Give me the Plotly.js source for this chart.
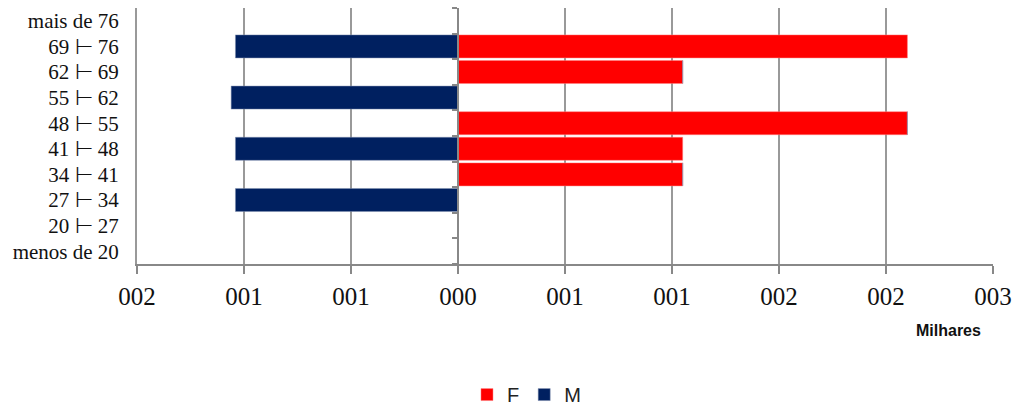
<!DOCTYPE html>
<html>
<head>
<meta charset="utf-8">
<script src="https://cdn.plot.ly/plotly-3.0.1.min.js"></script>
<style>html,body{margin:0;padding:0;background:#fff;}#chart{width:1018px;height:407px;}</style>
</head>
<body>
<div id="chart"></div>
<script>
const categories = ["menos de 20", "20 \u22A2 27", "27 \u22A2 34", "34 \u22A2 41", "41 \u22A2 48",
                    "48 \u22A2 55", "55 \u22A2 62", "62 \u22A2 69", "69 \u22A2 76", "mais de 76"];
const femaleValues = [0, 0, 0, 1.05, 1.05, 2.10, 0, 1.05, 2.10, 0];
const maleValues   = [0, 0, 1.04, 0, 1.04, 0, 1.06, 0, 1.04, 0];
const xTickValues = [-1.5, -1.0, -0.5, 0, 0.5, 1.0, 1.5, 2.0, 2.5];
const xTickLabels = ["002", "001", "001", "000", "001", "001", "002", "002", "003"];

const boundaries = [];
for (let i = 0; i <= categories.length; i++) boundaries.push(i - 0.5);

const traces = [
  {type: 'bar', orientation: 'h', name: 'F', y: categories, x: femaleValues,
   marker: {color: '#FF0000', line: {color: '#ff8080', width: 0.5}}, hoverinfo: 'x+y'},
  {type: 'bar', orientation: 'h', name: 'M', y: categories, x: maleValues.map(v => -v),
   marker: {color: '#002060', line: {color: '#8090b0', width: 0.5}}, hoverinfo: 'x+y'},
  {type: 'scatter', mode: 'markers', x: [0], y: [0], xaxis: 'x', yaxis: 'y2',
   marker: {opacity: 0, size: 1}, showlegend: false, hoverinfo: 'skip'}
];

const layout = {
  width: 1018, height: 407,
  margin: {l: 137, r: 25, t: 8, b: 143, autoexpand: false},
  paper_bgcolor: '#fff', plot_bgcolor: '#fff',
  barmode: 'relative', bargap: 0.1,
  showlegend: true,
  legend: {orientation: 'h', x: 0.455, xanchor: 'center', y: -0.51, yanchor: 'middle',
           font: {family: 'Liberation Sans, Arial, sans-serif', size: 20, color: '#222'},
           traceorder: 'normal', itemwidth: 30},
  xaxis: {range: [-1.5, 2.5], tickvals: xTickValues, ticktext: xTickLabels,
          showgrid: true, gridcolor: '#999', gridwidth: 2,
          zeroline: false, showline: true, linecolor: '#888', linewidth: 2,
          ticks: 'outside', ticklen: 8, tickcolor: '#888', tickwidth: 2,
          tickfont: {family: 'Liberation Serif, Times New Roman, serif', size: 25, color: '#111'},
          ticklabelstandoff: 1, fixedrange: true},
  yaxis: {type: 'category', categoryorder: 'array', categoryarray: categories,
          range: [-0.5, 9.5], showgrid: false, zeroline: false,
          showline: true, linecolor: '#999', linewidth: 2, ticks: '',
          tickfont: {family: 'Liberation Serif, Times New Roman, serif', size: 21, color: '#111'},
          ticklabelstandoff: 12, fixedrange: true},
  yaxis2: {overlaying: 'y', anchor: 'free', position: 0.375, side: 'left',
           range: [-0.5, 9.5], tickvals: boundaries, showticklabels: false,
           showgrid: false, zeroline: false, showline: true, linecolor: '#888', linewidth: 2,
           ticks: 'outside', ticklen: 5, tickcolor: '#888', tickwidth: 2, fixedrange: true},
  annotations: [{text: '<b>Milhares</b>', xref: 'paper', yref: 'paper', x: 0.948, y: -0.258,
                 xanchor: 'center', yanchor: 'middle', showarrow: false,
                 font: {family: 'Liberation Sans, Arial, sans-serif', size: 16, color: '#111'}}]
};

Plotly.newPlot('chart', traces, layout, {displayModeBar: false, staticPlot: true});
</script>
</body>
</html>
